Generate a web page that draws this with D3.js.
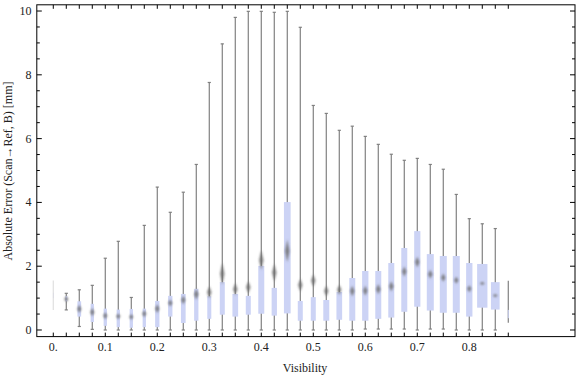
<!DOCTYPE html>
<html>
<head>
<meta charset="utf-8">
<script src="https://cdn.jsdelivr.net/npm/d3@7"></script>
<style>
  body { margin: 0; background: #fff; }
  svg { display: block; font-family: "Liberation Serif", "DejaVu Serif", serif; }
</style>
</head>
<body>
<svg id="chart" width="576" height="377"></svg>
<script>
// Box/whisker data, one entry per visibility bin
var visibility = [0, 0.025, 0.05, 0.075, 0.1, 0.125, 0.15, 0.175, 0.2, 0.225, 0.25, 0.275,
                  0.3, 0.325, 0.35, 0.375, 0.4, 0.425, 0.45, 0.475, 0.5, 0.525, 0.55, 0.575,
                  0.6, 0.625, 0.65, 0.675, 0.7, 0.725, 0.75, 0.775, 0.8, 0.825, 0.85, 0.875];
var whiskerLo = [0.63, 0.63, 0.11, 0.02, 0, 0, 0, 0, 0, 0, 0, 0,
                 0, 0, 0, 0, 0, 0, 0, 0, 0, 0, 0, 0,
                 0.03, 0.03, 0.03, 0.03, 0, 0.03, 0.03, 0, 0, 0, 0, 0.23];
var whiskerHi = [1.55, 1.15, 1.26, 1.40, 2.25, 2.78, 1.02, 3.28, 4.48, 3.69, 4.32, 5.19,
                 7.76, 8.97, 9.80, 9.99, 9.99, 9.96, 9.99, 9.49, 7.04, 6.79, 6.26, 6.39,
                 6.07, 5.82, 5.51, 5.32, 5.38, 5.19, 5.04, 4.25, 3.49, 3.33, 3.18, 1.54];
var q1 = [1.00, 0.90, 0.42, 0.25, 0.13, 0.09, 0.07, 0.09, 0.09, 0.42, 0.22, 0.29,
          0.35, 0.48, 0.42, 0.48, 0.51, 0.45, 0.52, 0.29, 0.29, 0.29, 0.32, 0.29,
          0.29, 0.35, 0.39, 0.57, 0.73, 0.61, 0.54, 0.54, 0.42, 0.70, 0.64, 0.37];
var q3 = [1.17, 1.06, 0.90, 0.82, 0.67, 0.64, 0.66, 0.67, 0.91, 1.07, 1.13, 1.29,
          1.06, 1.50, 1.13, 1.07, 2.01, 1.32, 4.01, 0.91, 1.03, 0.94, 1.19, 1.63,
          1.85, 1.85, 2.10, 2.57, 3.10, 2.38, 2.32, 2.32, 2.10, 2.07, 1.50, 0.63];
var center = [1.05, 0.97, 0.66, 0.56, 0.45, 0.43, 0.41, 0.51, 0.67, 0.85, 0.94, 1.12,
              1.18, 1.76, 1.28, 1.34, 2.19, 1.80, 2.48, 1.41, 1.55, 1.22, 1.26, 1.22,
              1.23, 1.28, 1.37, 1.83, 2.13, 1.75, 1.64, 1.56, 1.29, 1.46, 1.08, 0.50];
var ciHalf = [0, 0.09, 0.13, 0.13, 0.11, 0.09, 0.09, 0.11, 0.14, 0.11, 0.13, 0.17,
              0.19, 0.34, 0.19, 0.19, 0.31, 0.27, 0.36, 0.20, 0.20, 0.17, 0.16, 0.17,
              0.16, 0.16, 0.16, 0.16, 0.17, 0.14, 0.13, 0.11, 0.11, 0.05, 0.05, 0];
var counts = [4, 38, 129, 103, 103, 103, 103, 103, 174, 174, 208, 174,
              151, 236, 306, 236, 339, 265, 423, 236, 236, 339, 306, 339,
              374, 339, 339, 339, 362, 462, 462, 462, 374, 1000, 713, 9];
var xTickLabels = [0, 0.1, 0.2, 0.3, 0.4, 0.5, 0.6, 0.7, 0.8];
var yTickLabels = [0, 2, 4, 6, 8, 10];

var boxFill = "#ccd3f5";
var whiskerColor = "#808080";

var svg = d3.select("#chart");
var plotL = 36.8, plotR = 575, plotT = 4.8, plotB = 336.6;

var x = d3.scaleLinear().domain([-0.0317, 1.0033]).range([plotL, plotR]);
var y = d3.scaleLinear().domain([-0.207, 10.195]).range([plotB, plotT]);
var wScale = d3.scaleSqrt().domain([0, 1000]).range([0, 10.3]);

var rows = visibility.map(function(v, i) {
    return {v: v, lo: whiskerLo[i], hi: whiskerHi[i], q1: q1[i], q3: q3[i],
            c: center[i], ci: ciHalf[i], n: counts[i]};
});

var defs = svg.append("defs");
defs.append("filter").attr("id", "soft")
    .attr("x", "-100%").attr("y", "-50%").attr("width", "300%").attr("height", "200%")
  .append("feGaussianBlur").attr("stdDeviation", 0.8);

var g = svg.append("g");

// whiskers
g.selectAll(".whisker").data(rows).enter().append("line")
    .attr("x1", function(d) { return x(d.v); })
    .attr("x2", function(d) { return x(d.v); })
    .attr("y1", function(d) { return y(d.lo); })
    .attr("y2", function(d) { return y(d.hi); })
    .attr("stroke", whiskerColor)
    .attr("stroke-opacity", function(d) { return d.n < 5 ? 0.25 : 1; })
    .attr("stroke-width", 1.2);

// caps
var capped = rows.filter(function(d) { return d.n >= 20; });
["lo", "hi"].forEach(function(k) {
    g.selectAll(".cap-" + k).data(capped).enter().append("line")
        .attr("x1", function(d) { return x(d.v) - 1.6; })
        .attr("x2", function(d) { return x(d.v) + 1.6; })
        .attr("y1", function(d) { return y(d[k]); })
        .attr("y2", function(d) { return y(d[k]); })
        .attr("stroke", whiskerColor)
        .attr("stroke-width", 1.2);
});

// boxes
g.selectAll(".box").data(rows).enter().append("rect")
    .attr("x", function(d) { return x(d.v) - wScale(d.n) / 2; })
    .attr("width", function(d) { return wScale(d.n); })
    .attr("y", function(d) { return y(d.q3); })
    .attr("height", function(d) { return y(d.q1) - y(d.q3); })
    .attr("fill", function(d) { return d.n < 5 ? "#d8d8e4" : boxFill; });

// diamonds (blurred)
g.selectAll(".diamond").data(rows.filter(function(d) { return d.ci > 0; })).enter()
  .append("path")
    .attr("d", function(d) {
        var cx = x(d.v), cy = y(d.c);
        var hh = Math.max(1.5, y(d.c - d.ci) - cy);
        var hw = d.ci < 0.08 ? 2.6 : 2.2;
        return "M" + cx + "," + (cy - hh) + "L" + (cx + hw) + "," + cy +
               "L" + cx + "," + (cy + hh) + "L" + (cx - hw) + "," + cy + "Z";
    })
    .attr("fill", "#6e6e6e")
    .attr("fill-opacity", 0.85)
    .attr("filter", "url(#soft)");

// frame
svg.append("rect")
    .attr("x", plotL).attr("y", plotT)
    .attr("width", plotR - plotL).attr("height", plotB - plotT)
    .attr("fill", "none").attr("stroke", "#000").attr("stroke-width", 1);

// x ticks at every bin, bottom and top
var xt = svg.append("g").attr("stroke", "#000").attr("stroke-width", 1);
xt.selectAll(".xb").data(visibility).enter().append("line")
    .attr("x1", function(d) { return x(d); }).attr("x2", function(d) { return x(d); })
    .attr("y1", plotB).attr("y2", plotB - 4);
xt.selectAll(".xt").data(visibility).enter().append("line")
    .attr("x1", function(d) { return x(d); }).attr("x2", function(d) { return x(d); })
    .attr("y1", plotT).attr("y2", plotT + 4);

svg.selectAll(".xl").data(xTickLabels).enter().append("text")
    .attr("x", function(d) { return x(d); })
    .attr("y", 351)
    .attr("text-anchor", "middle")
    .attr("font-size", 12)
    .attr("fill", "#222")
    .text(function(d) { return d === 0 ? "0." : String(d); });

// y ticks, left and right
var yMinor = d3.range(0, 10.01, 0.5);
var yt = svg.append("g").attr("stroke", "#000").attr("stroke-width", 1);
yt.selectAll(".yl").data(yMinor).enter().append("line")
    .attr("x1", plotL)
    .attr("x2", function(d) { return plotL + (d % 2 === 0 ? 5 : 3); })
    .attr("y1", function(d) { return y(d); }).attr("y2", function(d) { return y(d); });
yt.selectAll(".yr").data(yMinor).enter().append("line")
    .attr("x1", plotR)
    .attr("x2", function(d) { return plotR - (d % 2 === 0 ? 5 : 3); })
    .attr("y1", function(d) { return y(d); }).attr("y2", function(d) { return y(d); });

svg.selectAll(".ylab").data(yTickLabels).enter().append("text")
    .attr("x", 31.5)
    .attr("y", function(d) { return y(d) + 4; })
    .attr("text-anchor", "end")
    .attr("font-size", 12)
    .attr("fill", "#222")
    .text(function(d) { return d; });

// axis labels
svg.append("text")
    .attr("x", 305).attr("y", 372)
    .attr("text-anchor", "middle")
    .attr("font-size", 12)
    .attr("fill", "#222")
    .text("Visibility");

svg.append("text")
    .attr("transform", "translate(12,171) rotate(-90)")
    .attr("text-anchor", "middle")
    .attr("font-size", 12)
    .attr("fill", "#222")
    .text("Absolute Error (Scan\u2192Ref, B) [mm]");
</script>
</body>
</html>
